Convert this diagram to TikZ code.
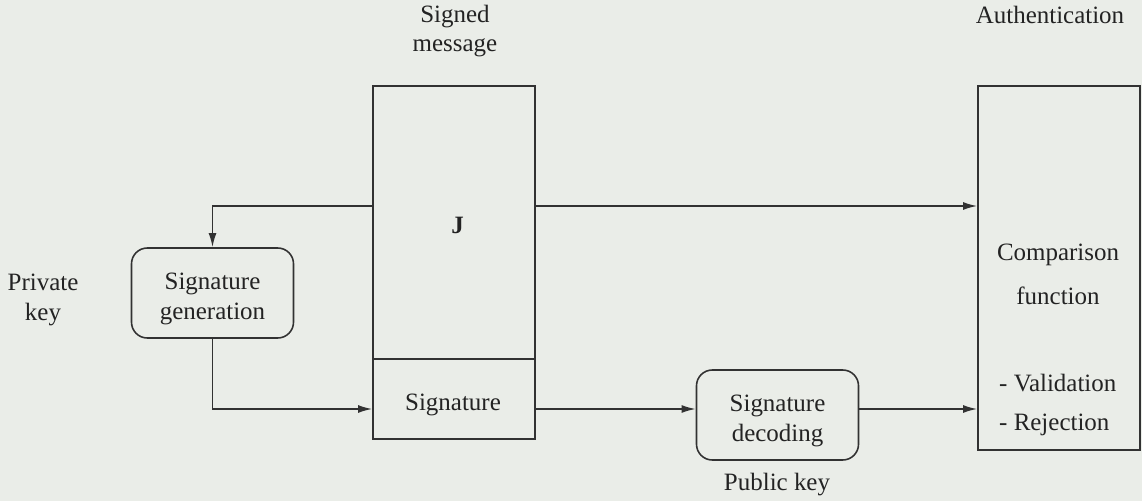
\documentclass[tikz,border=0pt]{standalone}
\usepackage{fontspec}
\setmainfont{Liberation Serif}
\usetikzlibrary{arrows.meta}
\definecolor{paper}{RGB}{234,237,232}
\definecolor{ink}{RGB}{50,50,50}
\definecolor{type}{RGB}{35,35,35}
\begin{document}
\begin{tikzpicture}[
    font=\fontsize{14.2}{17}\selectfont, text=type,
    box/.style={draw=ink, line width=0.9pt, minimum width=3.24cm},
    rbox/.style={draw=ink, line width=0.9pt, rounded corners=9pt,
      minimum width=3.24cm, minimum height=1.8cm},
    lbl/.style={align=center}]
  \fill[paper] (0,0) rectangle (22.84,-10.02);
  \useasboundingbox (0,0) rectangle (22.84,-10.02);
  \draw
    (9.08,-4.45) node[box, minimum height=5.46cm] (body){}
    (9.08,-7.98) node[box, minimum height=1.6cm] (sig){}
    (9.06,-8.10) node (sigtext){Signature}
    (9.15,-4.50) node (jtext){\bfseries J}
    (9.10,-0.62) node[lbl] (signed){Signed\\message}
    (4.25,-5.86) node[rbox] (siggen){}
    (4.25,-5.98) node[lbl] (gentext){Signature\\generation}
    (0.86,-6.00) node[lbl] (privkey){Private\\key}
    (15.55,-8.30) node[rbox] (dec){}
    (15.55,-8.42) node[lbl] (dectext){Signature\\decoding}
    (15.54,-9.70) node (pubkey){Public key}
    (21.18,-5.36) node[box, minimum height=7.28cm] (auth){}
    (21.00,-0.30) node (authtitle){Authentication}
    (21.16,-5.49) node[lbl] (compare){Comparison\\[8pt]function}
    (19.86,-8.10) node[anchor=west, align=left] (verdict){- Validation\\[5.5pt]- Rejection};
  \coordinate (tapL) at ([yshift=0.33cm]body.west);
  \coordinate (tapR) at ([yshift=0.33cm]body.east);
  \coordinate (sigL) at ([yshift=-0.2cm]sig.west);
  \coordinate (sigR) at ([yshift=-0.2cm]sig.east);
  \begin{scope}[-{Latex[length=8pt,width=4.5pt]}, draw=ink, line width=0.9pt]
    \draw (tapL) -| (siggen.north);
    \draw (siggen.south) |- (sigL);
    \draw (tapR) -- (tapR -| auth.west);
    \draw (sigR) -- (sigR -| dec.west);
    \draw (sigR -| dec.east) -- (sigR -| auth.west);
  \end{scope}
\end{tikzpicture}
\end{document}
